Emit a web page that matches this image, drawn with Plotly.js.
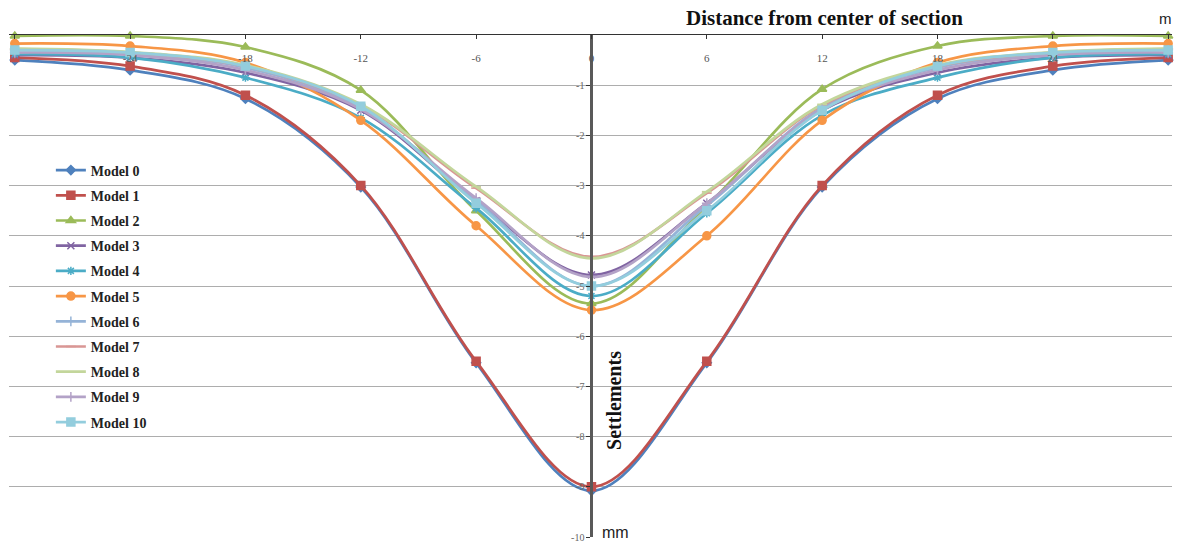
<!DOCTYPE html>
<html>
<head>
<meta charset="utf-8">
<script src="https://cdn.plot.ly/plotly-3.0.1.min.js"></script>
<style>html,body{margin:0;padding:0;background:#fff;}#chart{width:1181px;height:546px;}</style>
</head>
<body>
<div id="chart"></div>
<script>
// Distance from center of section (m)
const distance = [-30, -24, -18, -12, -6, 0, 6, 12, 18, 24, 30];
const xTickLabels = ["-30", "-24", "-18", "-12", "-6", "0", "6", "12", "18", "24", "30"];
const yTickValues = [0, -1, -2, -3, -4, -5, -6, -7, -8, -9, -10];

const modelNames = ["Model 0", "Model 1", "Model 2", "Model 3", "Model 4", "Model 5",
                    "Model 6", "Model 7", "Model 8", "Model 9", "Model 10"];

// Settlements (mm)
const model0  = [-0.50, -0.70, -1.27, -3.03, -6.53, -9.08, -6.53, -3.03, -1.27, -0.70, -0.50];
const model1  = [-0.45, -0.62, -1.20, -3.00, -6.50, -9.00, -6.50, -3.00, -1.20, -0.62, -0.45];
const model2  = [-0.02, -0.02, -0.24, -1.10, -3.50, -5.35, -3.40, -1.08, -0.22, -0.02, -0.02];
const model3  = [-0.40, -0.45, -0.75, -1.50, -3.30, -4.78, -3.35, -1.50, -0.75, -0.45, -0.40];
const model4  = [-0.38, -0.45, -0.85, -1.65, -3.45, -5.20, -3.55, -1.60, -0.85, -0.45, -0.38];
const model5  = [-0.17, -0.22, -0.55, -1.70, -3.80, -5.48, -4.00, -1.70, -0.55, -0.22, -0.17];
const model6  = [-0.30, -0.38, -0.65, -1.45, -3.30, -5.00, -3.40, -1.45, -0.65, -0.38, -0.30];
const model7  = [-0.28, -0.35, -0.62, -1.40, -3.05, -4.42, -3.15, -1.40, -0.62, -0.35, -0.28];
const model8  = [-0.27, -0.34, -0.60, -1.38, -3.02, -4.45, -3.12, -1.38, -0.60, -0.34, -0.27];
const model9  = [-0.35, -0.40, -0.70, -1.48, -3.25, -4.82, -3.35, -1.48, -0.70, -0.40, -0.35];
const model10 = [-0.30, -0.35, -0.62, -1.42, -3.35, -5.00, -3.50, -1.50, -0.62, -0.35, -0.30];

const seriesValues = [model0, model1, model2, model3, model4, model5, model6, model7, model8, model9, model10];
const colors = ["#4F81BD", "#C0504D", "#9BBB59", "#8064A2", "#4BACC6", "#F79646",
                "#95B3D7", "#D99694", "#C3D69B", "#B3A2C7", "#93CDDD"];
const symbols = ["diamond", "square", "triangle-up", "x-thin-open", "asterisk-open", "circle",
                 "cross-thin-open", "line-ew-open", "line-ew-open", "cross-thin-open", "square"];
const markerSizes = [7, 8, 8, 7, 7, 8, 7, 7, 7, 7, 8];

const traces = seriesValues.map((vals, i) => ({
  type: "scatter",
  mode: "lines+markers",
  name: modelNames[i],
  legendgroup: "g" + i,
  x: distance,
  y: vals,
  cliponaxis: false,
  line: {color: colors[i], width: 2.7, shape: "spline", smoothing: 1},
  marker: {symbol: symbols[i], size: markerSizes[i], color: colors[i],
           line: {color: colors[i], width: 1.5}}
}));

const serif = "Liberation Serif, Times New Roman, serif";
const sans = "Liberation Sans, Arial, sans-serif";

const xMin = -30.3, xMax = 30.2;
const yAxisPos = (0 - xMin) / (xMax - xMin);

const layout = {
  width: 1181, height: 546,
  margin: {l: 9, r: 9, t: 35, b: 9},
  paper_bgcolor: "#ffffff",
  plot_bgcolor: "#ffffff",
  showlegend: true,
  legend: {
    x: 0.036, y: 0.762, xanchor: "left", yanchor: "top",
    font: {family: serif, size: 14, color: "#222222", weight: "bold"},
    bgcolor: "rgba(255,255,255,0)",
    tracegroupgap: 4,
    itemwidth: 30
  },
  xaxis: {
    range: [xMin, xMax],
    side: "top",
    tickmode: "array",
    tickvals: distance,
    ticktext: xTickLabels,
    ticks: "inside", ticklen: 4, tickcolor: "#333333",
    ticklabelposition: "inside",
    ticklabelstandoff: 15,
    tickfont: {family: serif, size: 11, color: "#555555"},
    showgrid: false, zeroline: false,
    showline: true, linecolor: "#333333", linewidth: 1.5,
    fixedrange: true
  },
  yaxis: {
    range: [-10, 0],
    anchor: "free",
    position: yAxisPos,
    tickmode: "array",
    tickvals: yTickValues,
    ticktext: yTickValues.map(String),
    ticks: "outside", ticklen: 4, tickcolor: "#333333",
    tickfont: {family: serif, size: 10, color: "#666666"},
    showgrid: true, gridcolor: "#ADADAD", gridwidth: 1,
    zeroline: false,
    showline: true, linecolor: "#595959", linewidth: 2.2,
    fixedrange: true
  },
  annotations: [
    {xref: "paper", yref: "paper", x: 0.701, y: 1, yshift: 17, xanchor: "center", yanchor: "middle",
     text: "Distance from center of section", showarrow: false,
     font: {family: serif, size: 21, color: "#111111", weight: "bold"}},
    {xref: "paper", yref: "paper", x: 1.002, y: 1, yshift: 17, xanchor: "right", yanchor: "middle",
     text: "m", showarrow: false, font: {family: sans, size: 15, color: "#222222"}},
    {xref: "x", yref: "y", x: 0, y: -7.28, xshift: 23, xanchor: "center", yanchor: "middle",
     text: "Settlements", textangle: -90, showarrow: false,
     font: {family: serif, size: 20, color: "#111111", weight: "bold"}},
    {xref: "x", yref: "y", x: 0, y: -9.92, xshift: 9, xanchor: "left", yanchor: "middle",
     text: "mm", showarrow: false, font: {family: sans, size: 16, color: "#222222"}}
  ]
};

Plotly.newPlot("chart", traces, layout, {displayModeBar: false, staticPlot: true});
</script>
</body>
</html>
